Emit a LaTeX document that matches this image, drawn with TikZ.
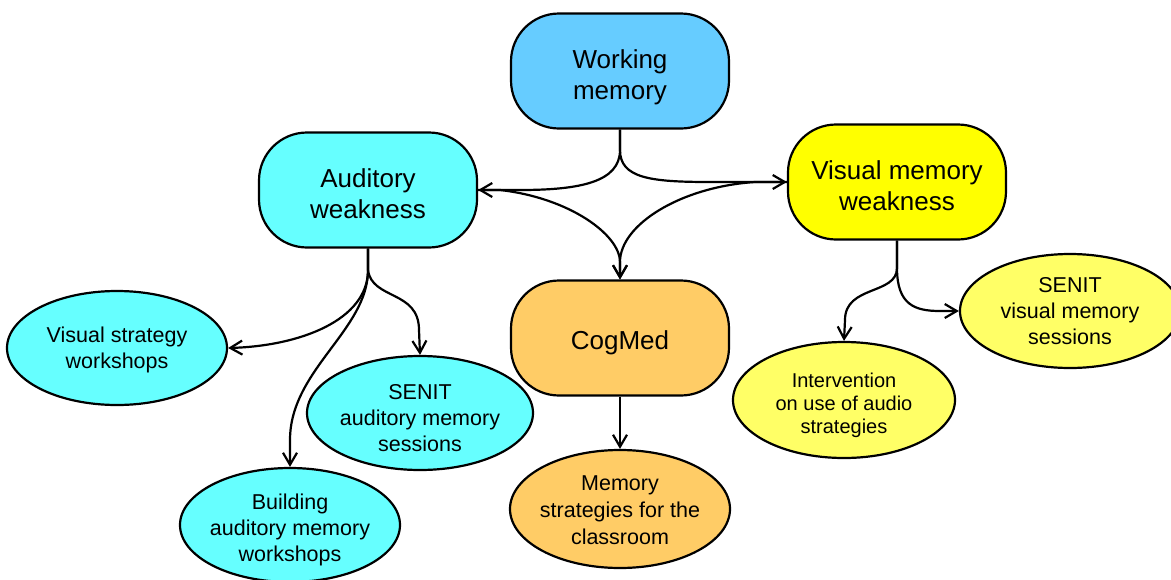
\documentclass[tikz,border=0pt]{standalone}
\usepackage{fontspec}
\setmainfont{Liberation Sans}
\usetikzlibrary{shapes.geometric,arrows.meta}
\definecolor{wmblue}{RGB}{102,204,255}
\definecolor{cyanf}{RGB}{102,255,255}
\definecolor{yelbox}{RGB}{255,255,0}
\definecolor{yelell}{RGB}{255,255,102}
\definecolor{orangef}{RGB}{255,204,102}
\begin{document}
\begin{tikzpicture}[x=1pt,y=-1pt,
  box/.style={draw=black, line width=2.2pt, rounded corners=48pt, minimum width=218pt,
    minimum height=115pt, align=center, font=\fontsize{26}{31}\selectfont, inner sep=0pt,
    text height=56pt, text depth=0pt},
  oval/.style={ellipse, draw=black, line width=2.2pt, minimum width=220pt, minimum height=114pt,
    align=center, font=\fontsize{21.5}{26}\selectfont, inner xsep=-15pt, inner ysep=-5pt,
    text height=72pt, text depth=0pt},
  conn/.style={draw=black, line width=2.2pt},
  arr/.style={conn, -{Straight Barb[length=12pt,width=14pt,line width=2.2pt]}}]
\useasboundingbox (0,0) rectangle (1171,579);

\node[box, fill=wmblue] (wm) at (620,71) {Working\\memory};
\node[box, fill=cyanf] (aud) at (368,190) {Auditory\\weakness};
\node[box, fill=yelbox] (vis) at (897,182) {Visual memory\\weakness};
\node[box, fill=orangef, text height=23pt] (cog) at (620,338) {CogMed};
\node[oval, fill=cyanf, text height=40pt] (vsw) at (117,348) {Visual strategy\\workshops};
\node[oval, fill=cyanf, minimum width=226pt, text height=76pt] (sam) at (420,413) {SENIT\\auditory memory\\sessions};
\node[oval, fill=cyanf] (bam) at (290,525) {Building\\auditory memory\\workshops};
\node[oval, fill=orangef, font=\fontsize{21.5}{27}\selectfont, text height=70pt, minimum height=118pt] (msc) at (620,509) {Memory\\strategies for the\\classroom};
\node[oval, fill=yelell, font=\fontsize{20}{23}\selectfont, text height=66pt, minimum width=222pt, minimum height=116pt] (int) at (844,400) {Intervention\\on use of audio\\strategies};
\node[oval, fill=yelell, text height=66pt] (svm) at (1070,311) {SENIT\\visual memory\\sessions};

% Working memory hub
\coordinate (wms) at (620,150);
\draw[arr] (wm.south) -- (wms) .. controls (620,182) and (580,190) .. (520,190) -- (aud.east);
\draw[arr] (wm.south) -- (wms) .. controls (620,178) and (650,182) .. (710,182) -- (vis.west);
\coordinate (cogt) at (620,262);
\draw[arr] (aud.east) -- (500,190) .. controls (570,198) and (620,235) .. (cogt) -- (cog.north);
\draw[arr] (vis.west) -- (755,182) .. controls (680,187) and (620,225) .. (cogt) -- (cog.north);

% Auditory children
\coordinate (as) at (368,270);
\draw[arr] (aud.south) -- (as) .. controls (368,320) and (300,346) .. (vsw.east);
\draw[arr] (aud.south) -- (as) .. controls (372,300) and (419,290) .. (419,330) -- (sam.north);
\draw[arr] (aud.south) -- (as) .. controls (368,330) and (290,370) .. (290,440) -- (bam.north);

% Visual children
\coordinate (vs) at (897,268);
\draw[arr] (vis.south) -- (vs) .. controls (897,295) and (845,285) .. (845,320) -- (int.north);
\draw[arr] (vis.south) -- (vs) .. controls (897,305) and (915,311) .. (940,311) -- (svm.west);

% CogMed child
\draw[arr] (cog.south) -- (msc.north);
\end{tikzpicture}
\end{document}
